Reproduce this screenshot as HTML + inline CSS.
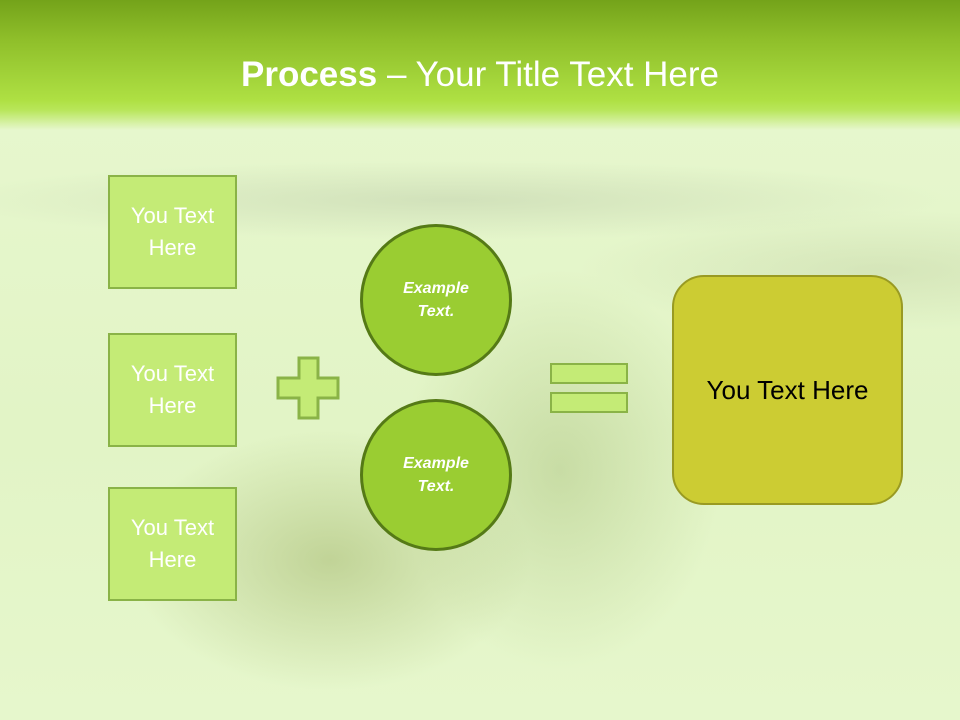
<!DOCTYPE html>
<html><head><meta charset="utf-8"><style>
html,body{margin:0;padding:0}
body{width:960px;height:720px;position:relative;overflow:hidden;font-family:"Liberation Sans",sans-serif;
background:#e4f6c8;}
.bg{position:absolute;inset:0;
background:
radial-gradient(ellipse 200px 130px at 330px 560px, rgba(150,170,90,0.45), rgba(150,170,90,0) 100%),
radial-gradient(ellipse 160px 200px at 560px 470px, rgba(150,175,100,0.35), rgba(150,175,100,0) 100%),
radial-gradient(ellipse 500px 40px at 450px 200px, rgba(190,205,170,0.5), rgba(190,205,170,0) 100%),
radial-gradient(ellipse 300px 60px at 880px 270px, rgba(190,205,160,0.4), rgba(190,205,160,0) 100%),
linear-gradient(#e8f8d0,#e2f4c6 60%,#e6f7cc);}
.top{position:absolute;left:0;top:0;width:960px;height:130px;
background:linear-gradient(#74a31a 0px,#8fbf2a 40px,#aee043 100px,#b8e65a 110px,rgba(228,246,200,0) 130px);}
.title{position:absolute;left:0;top:55px;width:960px;text-align:center;color:#fff;font-size:35px;}
.box{position:absolute;left:108px;width:125px;height:110px;background:#c4eb76;border:2px solid #8ab347;box-sizing:content-box;
color:#fff;font-size:22px;line-height:32px;text-align:center;display:flex;align-items:center;justify-content:center}
.circ{position:absolute;left:360px;width:146px;height:146px;border-radius:50%;background:#9acd32;border:3px solid #557a16;
color:#fff;font-weight:bold;font-style:italic;font-size:16px;line-height:23px;display:flex;align-items:center;justify-content:center;text-align:center}
.big{position:absolute;left:672px;top:275px;width:227px;height:226px;border-radius:32px;background:#cccc33;border:2px solid #999a22;
display:flex;align-items:center;justify-content:center;font-size:26px;color:#000}
.bar{position:absolute;left:550px;width:74px;height:17px;background:#c4eb76;border:2px solid #8ab347}
</style></head><body>
<div class="bg"></div>
<div class="top"></div>
<div class="title"><b>Process</b> – Your Title Text Here</div>
<div class="box" style="top:175px">You Text<br>Here</div>
<div class="box" style="top:333px">You Text<br>Here</div>
<div class="box" style="top:487px">You Text<br>Here</div>
<svg style="position:absolute;left:0;top:0" width="960" height="720">
<path d="M299 358 H318 V378 H338 V398 H318 V418 H299 V398 H278 V378 H299 Z" fill="#c4eb76" stroke="#8ab347" stroke-width="3"/>
</svg>
<div class="circ" style="top:224px">Example<br>Text.</div>
<div class="circ" style="top:399px">Example<br>Text.</div>
<div class="bar" style="top:363px"></div>
<div class="bar" style="top:392px"></div>
<div class="big">You Text Here</div>
</body></html>
